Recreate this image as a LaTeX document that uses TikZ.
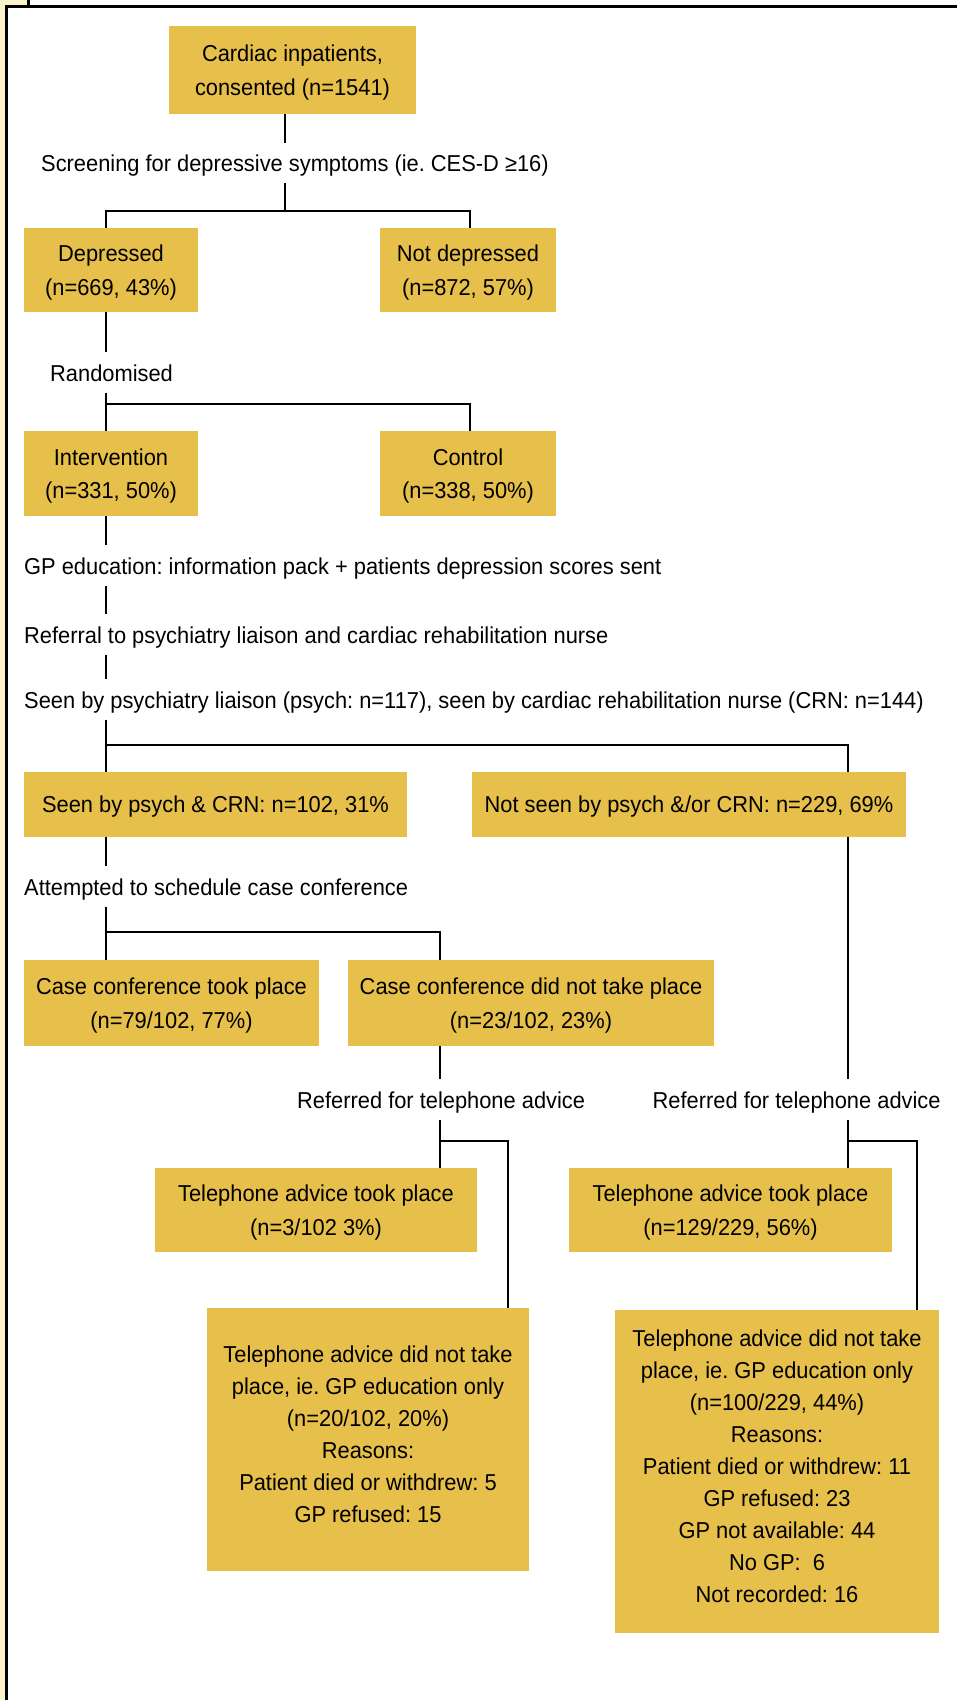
\documentclass[tikz,border=0pt]{standalone}
\usepackage{fontspec}
\setmainfont[FakeStretch=0.95]{Liberation Sans}
\definecolor{boxy}{RGB}{230,192,74}
\definecolor{cream}{RGB}{251,241,203}
\begin{document}
\frenchspacing
\begin{tikzpicture}[x=1pt,y=-1pt,
  every node/.style={font=\frenchspacing\fontsize{23pt}{33.6pt}\selectfont, text=black},
  box/.style={fill=boxy, inner sep=0pt, align=center, text depth=0pt},
  bigbox/.style={box, font=\frenchspacing\fontsize{23pt}{32pt}\selectfont},
  lab/.style={anchor=base west, inner xsep=0pt, inner ysep=9.5pt, text height=19pt, text depth=2pt},
  conn/.style={line width=2.5pt},
  framel/.style={line width=3pt}]
\useasboundingbox (0,0) rectangle (957,1700);
\fill[white] (0,0) rectangle (957,1700);
% frame
\fill[cream] (0,0) -- (28.5,0) -- (28.5,6.5) -- (6.5,6.5) -- (6.5,1700) -- (0,1700) -- cycle;
\draw[framel] (28.5,0) -- (28.5,6.5);
\draw[framel] (5,6.5) -- (957,6.5);
\draw[framel] (6.5,5) -- (6.5,1700);
% columns
\coordinate (cL) at (106,0);
\coordinate (cM) at (285,0);
\coordinate (cR) at (470,0);
\coordinate (cS) at (848,0);
\coordinate (cC) at (440,0);
\coordinate (cT1) at (508,0);
\coordinate (cT2) at (917,0);
% boxes
\node[box, minimum width=247pt, minimum height=88pt] (b1) at (292.5,70) {Cardiac inpatients,\\consented (n=1541)};
\node[box, minimum width=174pt, minimum height=84pt] (dep) at (111,270) {Depressed\\(n=669, 43\%)};
\node[box, minimum width=176pt, minimum height=84pt] (ndep) at (468,270) {Not depressed\\(n=872, 57\%)};
\node[box, minimum width=174pt, minimum height=85pt] (int) at (111,473.5) {Intervention\\(n=331, 50\%)};
\node[box, minimum width=176pt, minimum height=85pt] (ctl) at (468,473.5) {Control\\(n=338, 50\%)};
\node[box, minimum width=383pt, minimum height=65pt] (seen) at (215.5,804.5) {Seen by psych \& CRN: n=102, 31\%};
\node[box, minimum width=434pt, minimum height=65pt] (nseen) at (689,804.5) {Not seen by psych \&/or CRN: n=229, 69\%};
\node[box, minimum width=295pt, minimum height=86pt] (cct) at (171.5,1003) {Case conference took place\\(n=79/102, 77\%)};
\node[box, minimum width=366pt, minimum height=86pt] (ccn) at (531,1003) {Case conference did not take place\\(n=23/102, 23\%)};
\node[box, minimum width=322pt, minimum height=84pt] (tl) at (316,1210) {Telephone advice took place\\(n=3/102 3\%)};
\node[box, minimum width=323pt, minimum height=84pt] (tr) at (730.5,1210) {Telephone advice took place\\(n=129/229, 56\%)};
\node[bigbox, text depth=10pt, minimum width=322pt, minimum height=263pt] (tdl) at (368,1439.5) {Telephone advice did not take\\place, ie. GP education only\\(n=20/102, 20\%)\\Reasons:\\Patient died or withdrew: 5\\GP refused: 15};
\node[bigbox, text depth=11pt, minimum width=324pt, minimum height=323pt] (tdr) at (777,1471.5) {Telephone advice did not take\\place, ie. GP education only\\(n=100/229, 44\%)\\Reasons:\\Patient died or withdrew: 11\\GP refused: 23\\GP not available: 44\\No GP:\ \ 6\\Not recorded: 16};
% labels
\node[lab] (scr) at (41,171.7) {Screening for depressive symptoms (ie. CES-D ≥16)};
\node[lab] (rand) at (50,381) {Randomised};
\node[lab] (gped) at (24,574) {GP education: information pack + patients depression scores sent};
\node[lab] (ref) at (24,643) {Referral to psychiatry liaison and cardiac rehabilitation nurse};
\node[lab] (seenby) at (24,708) {Seen by psychiatry liaison (psych: n=117), seen by cardiac rehabilitation nurse (CRN: n=144)};
\node[lab] (att) at (24,895) {Attempted to schedule case conference};
\node[lab] (refL) at (297,1108) {Referred for telephone advice};
\node[lab] (refR) at (652.5,1108) {Referred for telephone advice};
% junctions
\coordinate (j1) at (285,211);
\coordinate (j2) at (106,404);
\coordinate (j3) at (106,745);
\coordinate (j4) at (106,932);
\coordinate (j5) at (440,1141);
\coordinate (j6) at (848,1141);
% connectors
\draw[conn] (b1.south -| cM) -- (scr.north -| cM);
\draw[conn] (scr.south -| cM) -- (j1);
\draw[conn] (dep.north -| cL) |- (j1) -| (ndep.north -| cR);
\draw[conn] (dep.south -| cL) -- (rand.north -| cL);
\draw[conn] (rand.south -| cL) -- (int.north -| cL);
\draw[conn] (j2) -| (ctl.north -| cR);
\draw[conn] (int.south -| cL) -- (gped.north -| cL);
\draw[conn] (gped.south -| cL) -- (ref.north -| cL);
\draw[conn] (ref.south -| cL) -- (seenby.north -| cL);
\draw[conn] (seenby.south -| cL) -- (seen.north -| cL);
\draw[conn] (j3) -| (nseen.north -| cS);
\draw[conn] (seen.south -| cL) -- (att.north -| cL);
\draw[conn] (att.south -| cL) -- (cct.north -| cL);
\draw[conn] (j4) -| (ccn.north -| cC);
\draw[conn] (ccn.south -| cC) -- (refL.north -| cC);
\draw[conn] (refL.south -| cC) -- (tl.north -| cC);
\draw[conn] (j5) -| (tdl.north -| cT1);
\draw[conn] (nseen.south -| cS) -- (refR.north -| cS);
\draw[conn] (refR.south -| cS) -- (tr.north -| cS);
\draw[conn] (j6) -| (tdr.north -| cT2);
\end{tikzpicture}
\end{document}
